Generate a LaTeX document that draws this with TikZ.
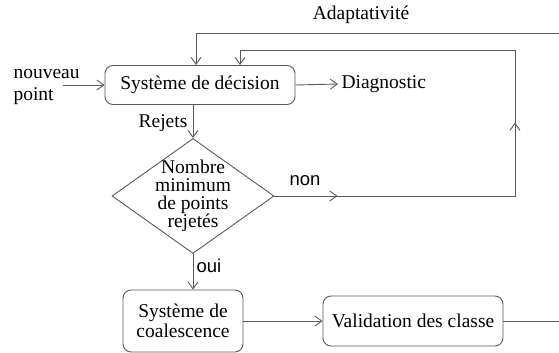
\documentclass[tikz,border=0pt]{standalone}
\usepackage{fontspec}
\setmainfont{Liberation Serif}
\newfontfamily\sansfont{Liberation Sans}
\usetikzlibrary{shapes.geometric,arrows.meta,decorations.markings}

\tikzset{
  trait/.style={draw=gray!70!black, line width=0.9pt},
  fleche/.style={trait, -{Straight Barb[length=7pt,width=10pt]}},
  boite/.style={trait, rounded corners=8pt, align=center, inner sep=0pt},
  losange/.style={trait, diamond, inner sep=0pt, minimum width=162pt, minimum height=115pt},
  milieu/.style={postaction={decorate, decoration={markings,
      mark=at position #1 with {\arrow{Straight Barb[length=7pt,width=10pt]}}}}}
}

\begin{document}
\begin{tikzpicture}[x=1pt, y=-1pt, font=\fontsize{19.5}{20.5}\selectfont]
  \useasboundingbox (0,0) rectangle (559,353);
  % noeuds
  \node[anchor=west] (nouveau) at (10,74) {nouveau};
  \node[anchor=west] (point) at (10,96) {point};
  \node[boite, minimum width=190pt, minimum height=39pt] (decision) at (200,85) {Syst\`eme de d\'ecision};
  \node[anchor=west] (diag) at (338,84) {Diagnostic};
  \node (adapt) at (361,15) {Adaptativit\'e};
  \node (rejets) at (163,123) {Rejets};
  \node[losange] (test) at (193,196) {};
  \node[align=center, font=\fontsize{19.5}{18}\selectfont] (texte) at (test) {Nombre\\minimum\\de points\\rejet\'es};
  \node[font=\sansfont\fontsize{18.5}{20}\selectfont] (non) at (305,181) {non};
  \node[font=\sansfont\fontsize{18.5}{20}\selectfont] (oui) at (209,266) {oui};
  \node[boite, minimum width=120pt, minimum height=62pt] (coal) at (183,321) {Syst\`eme de\\coalescence};
  \node[boite, minimum width=180pt, minimum height=50pt] (valid) at (413,321) {Validation des classe};
  \coordinate (haut) at (559,33);
  \coordinate (coin) at (515,50);
  \coordinate (sortie) at (559,321);
  % liaisons
  \draw[fleche] ([xshift=6pt]point.east |- decision.west) -- (decision.west);
  \draw[fleche] (decision.east) -- (diag.west);
  \draw[fleche] (haut) -| ([xshift=-4pt]decision.north);
  \draw[fleche] (test.north |- decision.south) -- (test.north);
  \draw[fleche, milieu=63pt, milieu=314pt] (test.east) -| (coin) -| ([xshift=40pt]decision.north);
  \draw[fleche] (test.south) -- (test.south |- coal.north);
  \draw[fleche] (coal.east) -- (valid.west);
  \draw[trait] (valid.east) -- (sortie);
\end{tikzpicture}
\end{document}
